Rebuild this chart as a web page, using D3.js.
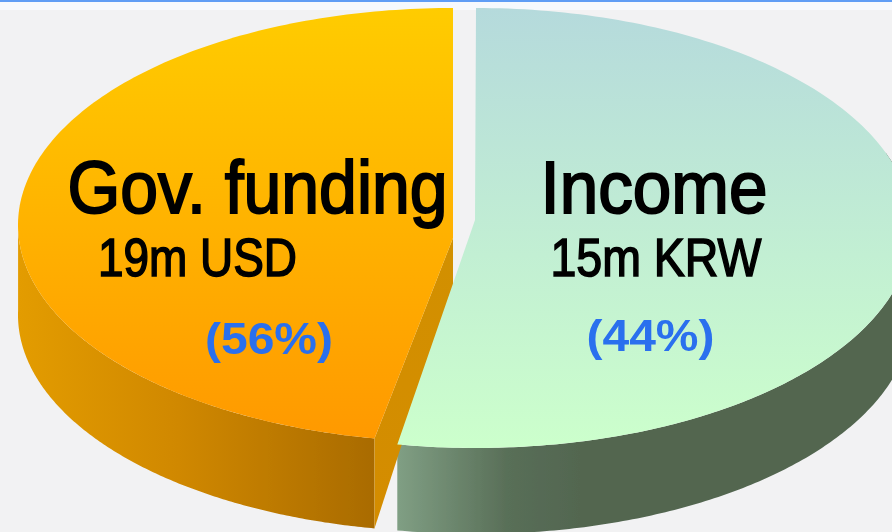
<!DOCTYPE html>
<html>
<head>
<meta charset="utf-8">
<script src="https://cdn.jsdelivr.net/npm/d3@7"></script>
<style>
html,body{margin:0;padding:0;background:#f2f2f3;overflow:hidden}
svg{display:block}
text{font-family:"Liberation Sans",Arial,sans-serif}
</style>
</head>
<body>
<svg id="c" width="892" height="532"></svg>
<script>
// data
const categories = ["Income", "Gov. funding"];
const shares = [44, 56];
const amounts = ["15m KRW", "19m USD"];
const shareLabels = ["(44%)", "(56%)"];

// drawing geometry
const W = 892, H = 532;
const svg = d3.select("#c");
const TAU = Math.PI * 2;
const drawnBoundary = 190.4 / 360 * TAU; // the picture's perspective puts the 44% cut past the bottom
const geometry = [
  {cx: 476, cy: 228, rx: 436, ry: 220, apexX: 475, apexY: 220, depth: 86},
  {cx: 453, cy: 225, rx: 435, ry: 217, apexX: 453, apexY: 238, depth: 90}
];
const labelLayout = [
  {cx: 654, titleW: 227, subW: 211, subCx: 656, pctCx: 650.5, pctY: 351, pctW: 128},
  {cx: 257.5, titleW: 380, subW: 199, subCx: 197.5, pctCx: 269, pctY: 354, pctW: 128}
];

const pie = d3.pie().sort(null).value(d => d);
const angle = d3.scaleLinear().domain([0, TAU * shares[0] / d3.sum(shares), TAU]).range([0, drawnBoundary, TAU]);
const arcs = pie(shares).map((a, i) => ({start: angle(a.startAngle), end: angle(a.endAngle), g: geometry[i], i}));

function pt(g, t) { return [g.cx + g.rx * Math.sin(t), g.cy - g.ry * Math.cos(t)]; }
function samples(a, b) { return d3.range(0, 181).map(k => a + (b - a) * k / 180); }
const line = d3.line();

// defs
const defs = svg.append("defs");
function grad(id, x1, y1, x2, y2, stops) {
  const g = defs.append("linearGradient").attr("id", id).attr("gradientUnits", "userSpaceOnUse")
    .attr("x1", x1).attr("y1", y1).attr("x2", x2).attr("y2", y2);
  stops.forEach(s => g.append("stop").attr("offset", s[0]).attr("stop-color", s[1]));
}
grad("topGov", 0, 8, 0, 438, [[0, "#ffcc00"], [1, "#ff9900"]]);
grad("topInc", 0, 8, 0, 444, [[0, "#b5dadc"], [1, "#ccffcc"]]);
grad("wallGov", 18, 0, 375, 0, [[0, "#e39c00"], [0.45, "#d08800"], [1, "#a96b00"]]);
grad("wallInc", 397, 0, 580, 0, [[0, "#809f84"], [0.6, "#596f58"], [1, "#526650"]]);
grad("cutGov", 375, 530, 453, 240, [[0, "#d48c00"], [1, "#d29000"]]);
defs.append("filter").attr("id", "soft").attr("x", "-5%").attr("y", "-5%").attr("width", "110%").attr("height", "110%")
  .append("feGaussianBlur").attr("stdDeviation", 0.7);

// background
svg.append("rect").attr("width", W).attr("height", H).attr("fill", "#f2f2f3");
svg.append("rect").attr("width", W).attr("height", 8).attr("y", 2).attr("fill", "#f6f9fd");
svg.append("rect").attr("width", W).attr("height", 2).attr("fill", "#5f9df5");

const pie3d = svg.append("g").attr("filter", "url(#soft)");

// side walls
arcs.forEach(a => {
  const g = a.g;
  // outer wall only where the rim faces the viewer
  const from = a.i === 0 ? Math.PI / 2 - 0.35 : a.start;
  const to = a.i === 0 ? a.end : Math.PI * 1.5 + 0.02;
  const rim = samples(from, to).map(t => pt(g, t));
  const low = rim.map(p => [p[0], p[1] + g.depth]).reverse();
  pie3d.append("path").attr("d", line(rim.concat(low)) + "Z")
    .attr("fill", a.i === 0 ? "url(#wallInc)" : "url(#wallGov)");
});

// cut wall of the larger slice
{
  const g = arcs[1].g, p = pt(g, arcs[1].start);
  pie3d.append("path")
    .attr("d", line([[g.apexX, g.apexY], p, [p[0], p[1] + g.depth], [g.apexX, g.apexY + 49]]) + "Z")
    .attr("fill", "url(#cutGov)");
}

// top faces
arcs.forEach(a => {
  const g = a.g;
  const rim = samples(a.start, a.end).map(t => pt(g, t));
  pie3d.append("path").attr("d", line(rim.concat([[g.apexX, g.apexY]])) + "Z")
    .attr("fill", a.i === 0 ? "url(#topInc)" : "url(#topGov)");
});

// labels
const labels = svg.append("g").attr("filter", "url(#soft)");
categories.forEach((c, i) => {
  const l = labelLayout[i];
  labels.append("text").text(c)
    .attr("x", l.cx).attr("y", 213).attr("text-anchor", "middle")
    .attr("font-size", 74).attr("fill", "#050505").attr("stroke", "#050505").attr("stroke-width", 2)
    .attr("textLength", l.titleW).attr("lengthAdjust", "spacingAndGlyphs");
  labels.append("text").text(amounts[i])
    .attr("x", l.subCx).attr("y", 276).attr("text-anchor", "middle")
    .attr("font-size", 54).attr("fill", "#050505").attr("stroke", "#050505").attr("stroke-width", 1.6)
    .attr("textLength", l.subW).attr("lengthAdjust", "spacingAndGlyphs");
  labels.append("text").text(shareLabels[i])
    .attr("x", l.pctCx).attr("y", l.pctY).attr("text-anchor", "middle")
    .attr("font-size", 44).attr("font-weight", "bold").attr("fill", "#2a6fee")
    .attr("textLength", l.pctW).attr("lengthAdjust", "spacingAndGlyphs");
});
</script>
</body>
</html>
